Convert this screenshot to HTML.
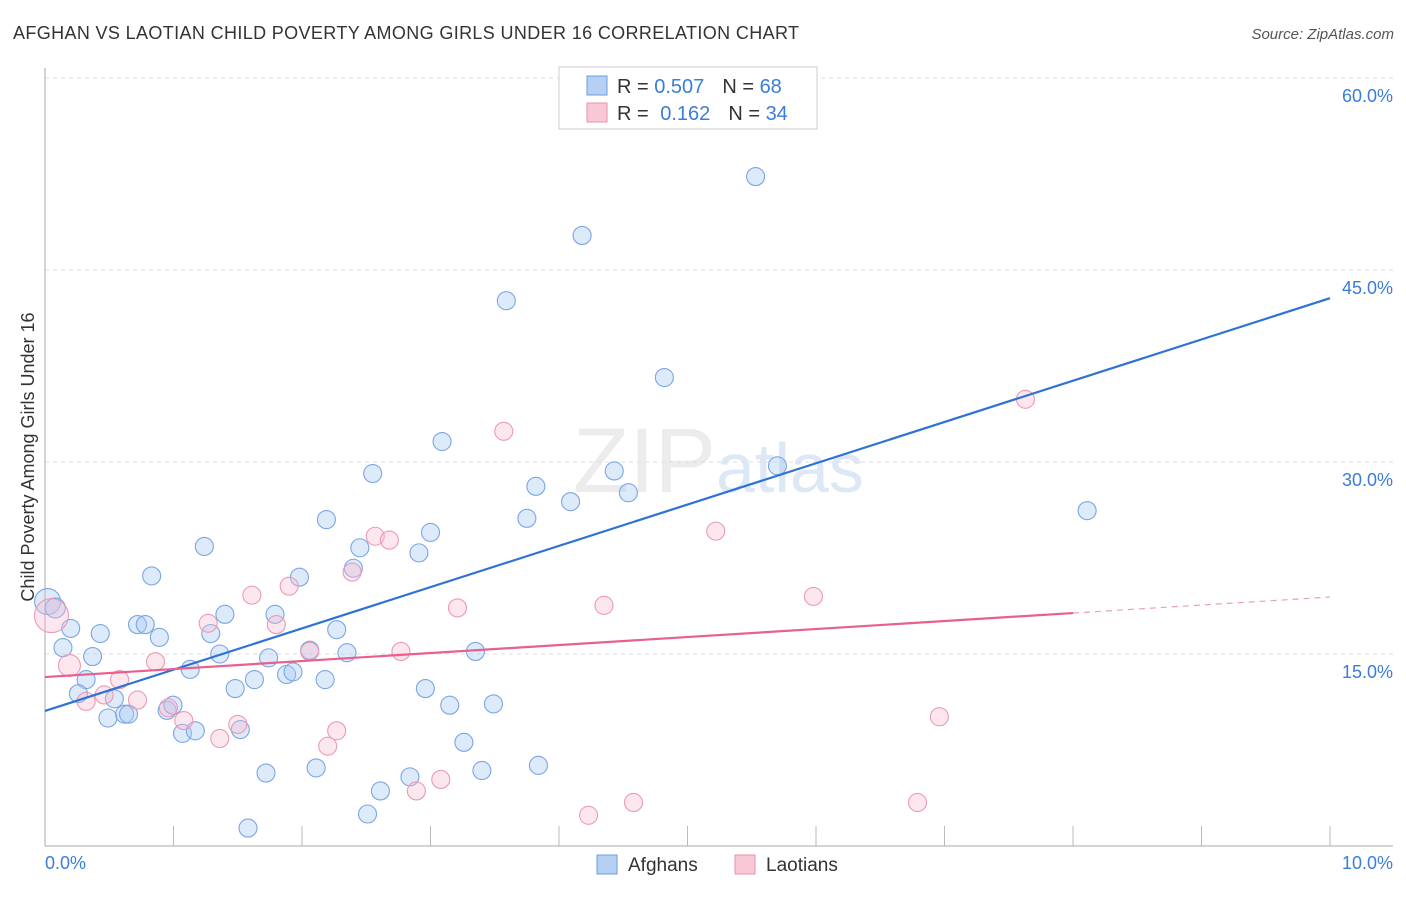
<!DOCTYPE html>
<html><head><meta charset="utf-8"><style>
body{margin:0;background:#fff;font-family:"Liberation Sans",sans-serif;}
svg text{font-family:"Liberation Sans",sans-serif;}
</style></head><body>
<svg width="1406" height="892" id="chart">
<text x="13" y="39" font-size="18" fill="#333" textLength="786" lengthAdjust="spacing">AFGHAN VS LAOTIAN CHILD POVERTY AMONG GIRLS UNDER 16 CORRELATION CHART</text>
<text x="1394" y="39" font-size="15" fill="#555" font-style="italic" text-anchor="end">Source: ZipAtlas.com</text>
<text x="716" y="492" font-size="92" fill="#ececec" font-family="Liberation Serif" text-anchor="end">ZIP</text>
<text x="716" y="492" font-size="70" fill="#dde8f6">atlas</text>
<g id="grid"></g>
<line x1="45" y1="68" x2="45" y2="846" stroke="#aaa"/>
<line x1="45" y1="846" x2="1393" y2="846" stroke="#aaa"/>
<text transform="translate(34,457) rotate(-90)" font-size="18" fill="#333" text-anchor="middle">Child Poverty Among Girls Under 16</text>
<text x="45" y="869" font-size="18" fill="#3b7dd8">0.0%</text>
<text x="1393" y="869" font-size="18" fill="#3b7dd8" text-anchor="end">10.0%</text>
<g id="lines"></g>
<g id="pts"></g>
<g>
<rect x="559" y="67" width="258" height="62" fill="#fff" stroke="#ccc"/>
<rect x="587" y="76" width="20" height="19" fill="#b5d0f3" stroke="#6a9be0"/>
<rect x="587" y="103" width="20" height="19" fill="#f9c8d6" stroke="#e890aa"/>
<text x="617" y="93" font-size="20" fill="#333">R = <tspan fill="#3b7dd8">0.507</tspan><tspan dx="18">N = </tspan><tspan fill="#3b7dd8">68</tspan></text>
<text x="617" y="120" font-size="20" fill="#333">R = <tspan dx="6" fill="#3b7dd8">0.162</tspan><tspan dx="18">N = </tspan><tspan fill="#3b7dd8">34</tspan></text>
</g>
<g><rect x="597" y="855" width="20" height="19" fill="#b5d0f3" stroke="#6a9be0"/><text x="628" y="871" font-size="19" fill="#333">Afghans</text></g>
<g><rect x="735" y="855" width="20" height="19" fill="#f9c8d6" stroke="#e890aa"/><text x="766" y="871" font-size="19" fill="#333">Laotians</text></g>
</svg>
<script>
const yTicks=[15,30,45,60];
const yTickLabels=["15.0%","30.0%","45.0%","60.0%"];
const xTicks=[0,1,2,3,4,5,6,7,8,9,10];
const afghanX=[0.02,0.08,0.2,0.14,0.43,0.37,0.32,0.26,0.54,0.49,0.62,0.65,0.72,0.78,0.89,0.83,0.95,0.996,1.07,1.17,1.13,1.24,1.29,1.4,1.36,1.48,1.52,1.63,1.74,1.72,1.58,1.79,1.88,1.93,1.98,2.06,2.11,2.19,2.18,2.27,2.35,2.4,2.45,2.51,2.55,2.61,2.84,2.91,2.96,3.0,3.09,3.15,3.26,3.35,3.4,3.49,3.59,3.75,3.82,3.84,4.09,4.18,4.43,4.54,4.82,5.53,5.7,8.11];
const afghanY=[19.1,18.6,17.0,15.5,16.6,14.8,13.0,11.9,11.5,10.0,10.3,10.3,17.3,17.3,16.3,21.1,10.6,11.0,8.8,9.0,13.8,23.4,16.6,18.1,15.0,12.3,9.1,13.0,14.7,5.7,1.4,18.1,13.4,13.6,21.0,15.3,6.1,25.5,13.0,16.9,15.1,21.7,23.3,2.5,29.1,4.3,5.4,22.9,12.3,24.5,31.6,11.0,8.1,15.2,5.9,11.1,42.6,25.6,28.1,6.3,26.9,47.7,29.3,27.6,36.6,52.3,29.7,26.2];
const afghanR=[13,10,9,9,9,9,9,9,9,9,9,9,9,9,9,9,9,9,9,9,9,9,9,9,9,9,9,9,9,9,9,9,9,9,9,9,9,9,9,9,9,9,9,9,9,9,9,9,9,9,9,9,9,9,9,9,9,9,9,9,9,9,9,9,9,9,9,9];
const laoX=[0.05,0.19,0.32,0.46,0.58,0.72,0.86,0.96,1.08,1.36,1.27,1.5,1.61,1.8,1.9,2.06,2.2,2.27,2.39,2.57,2.68,2.77,2.89,3.08,3.21,3.57,4.23,4.35,4.58,5.22,5.98,6.79,6.96,7.63];
const laoY=[18.0,14.1,11.3,11.8,13.0,11.4,14.4,10.8,9.8,8.4,17.4,9.5,19.6,17.3,20.3,15.2,7.8,9.0,21.4,24.2,23.9,15.2,4.3,5.2,18.6,32.4,2.4,18.8,3.4,24.6,19.5,3.4,10.1,34.9];
const laoR=[17,11,9,9,9,9,9,9,9,9,9,9,9,9,9,9,9,9,9,9,9,9,9,9,9,9,9,9,9,9,9,9,9,9];
const afghanTrend=[10.55,42.8];
const laoTrend=[13.2,19.45];
const NS="http://www.w3.org/2000/svg";
const sx=v=>45+v*128.5, sy=v=>846-v*12.8;
function mk(t,a,p){const e=document.createElementNS(NS,t);for(const k in a)e.setAttribute(k,a[k]);p.appendChild(e);return e;}
const grid=document.getElementById('grid');
yTicks.forEach((t,i)=>{
 const l=mk('line',{x1:45,x2:1393,y1:sy(t),y2:sy(t),stroke:'#ddd','stroke-dasharray':'4,4'},grid);
 
 
 const tx=mk('text',{x:1393,y:sy(t)+24,'font-size':18,fill:'#3b7dd8','text-anchor':'end'},grid);
 tx.textContent=yTickLabels[i];
 
 
});
xTicks.forEach(t=>{
 const l=mk('line',{x1:sx(t),x2:sx(t),y1:826,y2:846,stroke:'#bbb'},grid);
 
 
});
const pts=document.getElementById('pts');
afghanX.forEach((x,i)=>{
 const c=mk('circle',{cx:sx(x),cy:sy(afghanY[i]),r:afghanR[i],fill:'rgba(170,202,242,0.4)',stroke:'#7aa6e4','stroke-width':1.1},pts);
 
 
});
laoX.forEach((x,i)=>{
 const c=mk('circle',{cx:sx(x),cy:sy(laoY[i]),r:laoR[i],fill:'rgba(248,185,205,0.35)',stroke:'#eb9ab3','stroke-width':1.1},pts);
 
 
});
const bl=mk('line',{x1:sx(0),y1:sy(afghanTrend[0]),x2:sx(10),y2:sy(afghanTrend[1]),stroke:'#2f72d6','stroke-width':2.2},pts);


const lm=v=>laoTrend[0]+(laoTrend[1]-laoTrend[0])*v/10;
const pl=mk('line',{x1:sx(0),y1:sy(lm(0)),x2:sx(8),y2:sy(lm(8)),stroke:'#e8608e','stroke-width':2.2},pts);


const pd=mk('line',{x1:sx(8),y1:sy(lm(8)),x2:sx(10),y2:sy(lm(10)),stroke:'#e8a0b8','stroke-width':1.2,'stroke-dasharray':'6,5'},pts);


</script>
</body></html>
